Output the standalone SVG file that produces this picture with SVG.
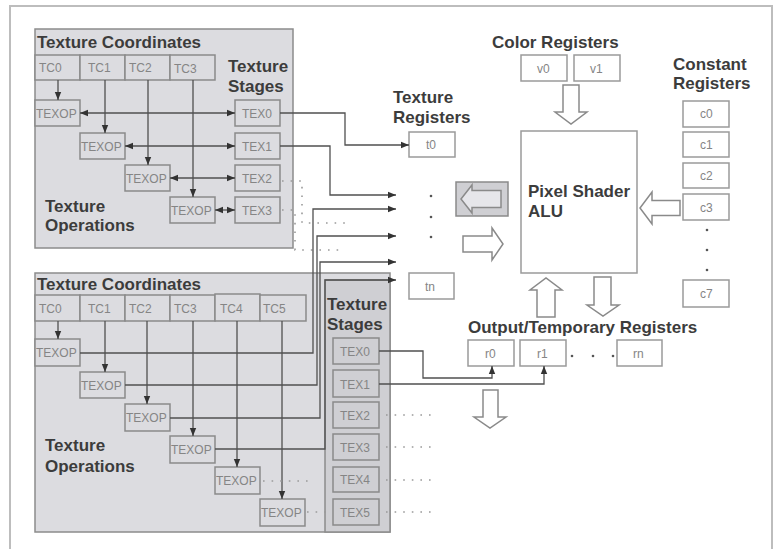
<svg xmlns="http://www.w3.org/2000/svg" width="776" height="549" viewBox="0 0 776 549">
<defs>
<style>
.frame{fill:none;stroke:#bdbdbd;stroke-width:2}
.panel{fill:#dcdce0;stroke:#8c8c8c;stroke-width:1.5}
.sub{fill:#cfcfd3;stroke:#8c8c8c;stroke-width:1.5}
.box{fill:#dcdce0;stroke:#8a8a8a;stroke-width:1.5}
.sbox{fill:#cfcfd3;stroke:#8a8a8a;stroke-width:1.5}
.wbox{fill:#ffffff;stroke:#9a9a9a;stroke-width:1.5}
.lbl{font-family:"Liberation Sans",Arial,sans-serif;font-weight:bold;font-size:17px;fill:#3c3c3c}
.bt{font-family:"Liberation Sans",Arial,sans-serif;font-size:12px;fill:#858585}
.ln{fill:none;stroke:#505050;stroke-width:1.3}
.dot{fill:none;stroke:#9a9a9a;stroke-width:1.6;stroke-dasharray:1.6 7}
.hol{fill:#ffffff;stroke:#8a8a8a;stroke-width:1.5}
.dt{fill:#555}
</style>
<marker id="ah" viewBox="0 0 10 10" refX="10" refY="5" markerWidth="8" markerHeight="8" markerUnits="userSpaceOnUse" orient="auto-start-reverse">
<path d="M0,1 L10,5 L0,9 z" fill="#333"/>
</marker>
</defs>
<rect width="776" height="549" fill="#ffffff"/>
<path class="frame" d="M10,549 V6 H772 V549"/>

<g id="top-panel">
<rect class="panel" x="35" y="29" width="258" height="219"/>
<text class="lbl" x="37" y="48">Texture Coordinates</text>
<text class="lbl" x="228" y="72">Texture</text>
<text class="lbl" x="228" y="92">Stages</text>
<text class="lbl" x="45" y="212">Texture</text>
<text class="lbl" x="45" y="231">Operations</text>
</g>
<g id="top-tc">
<rect class="box" x="35" y="55" width="45" height="25"/><text class="bt" x="39" y="72">TC0</text>
<rect class="box" x="80" y="55" width="45" height="25"/><text class="bt" x="88" y="72">TC1</text>
<rect class="box" x="125" y="55" width="45" height="25"/><text class="bt" x="129" y="72">TC2</text>
<rect class="box" x="170" y="55" width="45" height="25"/><text class="bt" x="174" y="73">TC3</text>
</g>
<g id="top-texop">
<rect class="box" x="35" y="100" width="45" height="26"/><text class="bt" x="36" y="118">TEXOP</text>
<rect class="box" x="80" y="133" width="45" height="26"/><text class="bt" x="81" y="151">TEXOP</text>
<rect class="box" x="125" y="165" width="45" height="26"/><text class="bt" x="126" y="183">TEXOP</text>
<rect class="box" x="170" y="197" width="45" height="26"/><text class="bt" x="171" y="215">TEXOP</text>
</g>
<g id="top-tex">
<rect class="box" x="235" y="100" width="45" height="26"/><text class="bt" x="242" y="118">TEX0</text>
<rect class="box" x="235" y="133" width="45" height="26"/><text class="bt" x="242" y="151">TEX1</text>
<rect class="box" x="235" y="165" width="45" height="26"/><text class="bt" x="242" y="183">TEX2</text>
<rect class="box" x="235" y="197" width="45" height="26"/><text class="bt" x="242" y="215">TEX3</text>
</g>

<g id="bottom-panel">
<rect class="panel" x="35" y="273" width="355" height="259"/>
<rect class="sub" x="325" y="280" width="65" height="252"/>
<text class="lbl" x="37" y="290">Texture Coordinates</text>
<text class="lbl" x="327" y="310">Texture</text>
<text class="lbl" x="327" y="330">Stages</text>
<text class="lbl" x="45" y="451">Texture</text>
<text class="lbl" x="45" y="472">Operations</text>
</g>
<g id="bottom-tc">
<rect class="box" x="35" y="295" width="45" height="26"/><text class="bt" x="39" y="313">TC0</text>
<rect class="box" x="80" y="295" width="45" height="26"/><text class="bt" x="88" y="313">TC1</text>
<rect class="box" x="125" y="295" width="45" height="26"/><text class="bt" x="129" y="313">TC2</text>
<rect class="box" x="170" y="295" width="45" height="26"/><text class="bt" x="174" y="313">TC3</text>
<rect class="box" x="215" y="294" width="45" height="27"/><text class="bt" x="220" y="313">TC4</text>
<rect class="box" x="260" y="295" width="46" height="26"/><text class="bt" x="263" y="313">TC5</text>
</g>
<g id="bottom-texop">
<rect class="box" x="35" y="339" width="45" height="27"/><text class="bt" x="36" y="357">TEXOP</text>
<rect class="box" x="80" y="372" width="45" height="26"/><text class="bt" x="81" y="390">TEXOP</text>
<rect class="box" x="125" y="404" width="45" height="27"/><text class="bt" x="126" y="422">TEXOP</text>
<rect class="box" x="170" y="436" width="45" height="27"/><text class="bt" x="171" y="454">TEXOP</text>
<rect class="box" x="215" y="467" width="45" height="27"/><text class="bt" x="216" y="485">TEXOP</text>
<rect class="box" x="260" y="499" width="45" height="27"/><text class="bt" x="261" y="517">TEXOP</text>
</g>
<g id="bottom-tex">
<rect class="sbox" x="333" y="338" width="46" height="26"/><text class="bt" x="340" y="356">TEX0</text>
<rect class="sbox" x="333" y="370" width="46" height="27"/><text class="bt" x="340" y="389">TEX1</text>
<rect class="sbox" x="333" y="402" width="46" height="26"/><text class="bt" x="340" y="420">TEX2</text>
<rect class="sbox" x="333" y="434" width="46" height="26"/><text class="bt" x="340" y="452">TEX3</text>
<rect class="sbox" x="333" y="467" width="46" height="25"/><text class="bt" x="340" y="484">TEX4</text>
<rect class="sbox" x="333" y="499" width="46" height="26"/><text class="bt" x="340" y="517">TEX5</text>
</g>

<g id="texture-registers">
<text class="lbl" x="393" y="103">Texture</text>
<text class="lbl" x="393" y="123">Registers</text>
<rect class="wbox" x="409" y="132" width="46" height="25"/><text class="bt" x="426" y="149">t0</text>
<rect class="wbox" x="409" y="273" width="45" height="26"/><text class="bt" x="425" y="291">tn</text>
<circle class="dt" cx="431" cy="196" r="1.3"/>
<circle class="dt" cx="431" cy="217" r="1.3"/>
<circle class="dt" cx="431" cy="237" r="1.3"/>
</g>

<g id="load-arrows">
<rect class="sbox" x="456" y="182" width="52" height="34"/>
<polygon class="hol" points="501,190.5 501,207.5 472,207.5 472,213 461,199 472,185 472,190.5" style="fill:#e6e6ea"/>
<polygon class="hol" points="463,236 492,236 492,228 503,244 492,260 492,252 463,252"/>
</g>

<g id="color-registers">
<text class="lbl" x="492" y="48">Color Registers</text>
<rect class="wbox" x="521" y="55" width="46" height="26"/><text class="bt" x="537" y="73">v0</text>
<rect class="wbox" x="574" y="55" width="46" height="26"/><text class="bt" x="590" y="73">v1</text>
<polygon class="hol" points="563,85 579,85 579,112 587,112 571,124 555,112 563,112"/>
</g>

<g id="alu">
<rect class="wbox" x="521" y="131" width="116" height="142"/>
<text class="lbl" x="528" y="197">Pixel Shader</text>
<text class="lbl" x="528" y="217">ALU</text>
</g>

<g id="constant-registers">
<text class="lbl" x="673" y="70">Constant</text>
<text class="lbl" x="673" y="89">Registers</text>
<rect class="wbox" x="683" y="101" width="46" height="26"/><text class="bt" x="700" y="118">c0</text>
<rect class="wbox" x="683" y="132" width="46" height="25"/><text class="bt" x="700" y="149">c1</text>
<rect class="wbox" x="683" y="163" width="46" height="25"/><text class="bt" x="700" y="180">c2</text>
<rect class="wbox" x="683" y="194" width="46" height="26"/><text class="bt" x="700" y="212">c3</text>
<circle class="dt" cx="707" cy="230" r="1.3"/>
<circle class="dt" cx="707" cy="250" r="1.3"/>
<circle class="dt" cx="707" cy="270" r="1.3"/>
<rect class="wbox" x="683" y="280" width="46" height="27"/><text class="bt" x="700" y="298">c7</text>
<polygon class="hol" points="680,200.5 680,215.5 652,215.5 652,224 640,208 652,192 652,200.5"/>
</g>

<g id="output-registers">
<polygon class="hol" points="537,317 555,317 555,290 562,290 546,278 530,290 537,290"/>
<polygon class="hol" points="594,277 611,277 611,305 619,305 603,316 587,305 594,305"/>
<text class="lbl" x="468" y="333">Output/Temporary Registers</text>
<rect class="wbox" x="468" y="340" width="46" height="26"/><text class="bt" x="485" y="358">r0</text>
<rect class="wbox" x="520" y="340" width="46" height="26"/><text class="bt" x="537" y="358">r1</text>
<circle class="dt" cx="572" cy="356" r="1.3"/>
<circle class="dt" cx="593" cy="356" r="1.3"/>
<circle class="dt" cx="613" cy="356" r="1.3"/>
<rect class="wbox" x="617" y="340" width="45" height="26"/><text class="bt" x="633" y="358">rn</text>
<polygon class="hol" points="483,390 498,390 498,417 506,417 490,428 474,417 483,417"/>
</g>

<g id="connectors">
<path class="ln" d="M58,80 V100" marker-end="url(#ah)"/>
<path class="ln" d="M105,80 V133" marker-end="url(#ah)"/>
<path class="ln" d="M148,80 V165" marker-end="url(#ah)"/>
<path class="ln" d="M193,80 V197" marker-end="url(#ah)"/>
<path class="ln" d="M80,113 H235" marker-start="url(#ah)" marker-end="url(#ah)"/>
<path class="ln" d="M125,146 H235" marker-start="url(#ah)" marker-end="url(#ah)"/>
<path class="ln" d="M170,178 H235" marker-start="url(#ah)" marker-end="url(#ah)"/>
<path class="ln" d="M215,210 H235" marker-start="url(#ah)" marker-end="url(#ah)"/>
<path class="ln" d="M280,113 H345 V145 H409" marker-end="url(#ah)"/>
<path class="ln" d="M280,146 H330 V195 H396" marker-end="url(#ah)"/>
<path class="dot" d="M282,181 H302 V223 H346"/>
<path class="dot" d="M282,210 H295 V250 H340"/>

<path class="ln" d="M58,321 V339" marker-end="url(#ah)"/>
<path class="ln" d="M105,321 V372" marker-end="url(#ah)"/>
<path class="ln" d="M147,321 V404" marker-end="url(#ah)"/>
<path class="ln" d="M193,321 V436" marker-end="url(#ah)"/>
<path class="ln" d="M237,321 V467" marker-end="url(#ah)"/>
<path class="ln" d="M282,321 V499" marker-end="url(#ah)"/>
<path class="ln" d="M80,353 H313 V209 H396" marker-end="url(#ah)"/>
<path class="ln" d="M125,385 H317 V236 H396" marker-end="url(#ah)"/>
<path class="ln" d="M170,418 H320 V262 H396" marker-end="url(#ah)"/>
<path class="ln" d="M215,449 H325 V280 H396" marker-end="url(#ah)"/>
<path class="dot" d="M263,481 H312"/>
<path class="dot" d="M307,512 H330"/>
<path class="ln" d="M379,351 H423 V378 H492 V366" marker-end="url(#ah)"/>
<path class="ln" d="M379,384 H544 V366" marker-end="url(#ah)"/>
<path class="dot" d="M386,415 H432"/>
<path class="dot" d="M386,447 H432"/>
<path class="dot" d="M386,480 H432"/>
<path class="dot" d="M386,512 H432"/>
</g>
</svg>
